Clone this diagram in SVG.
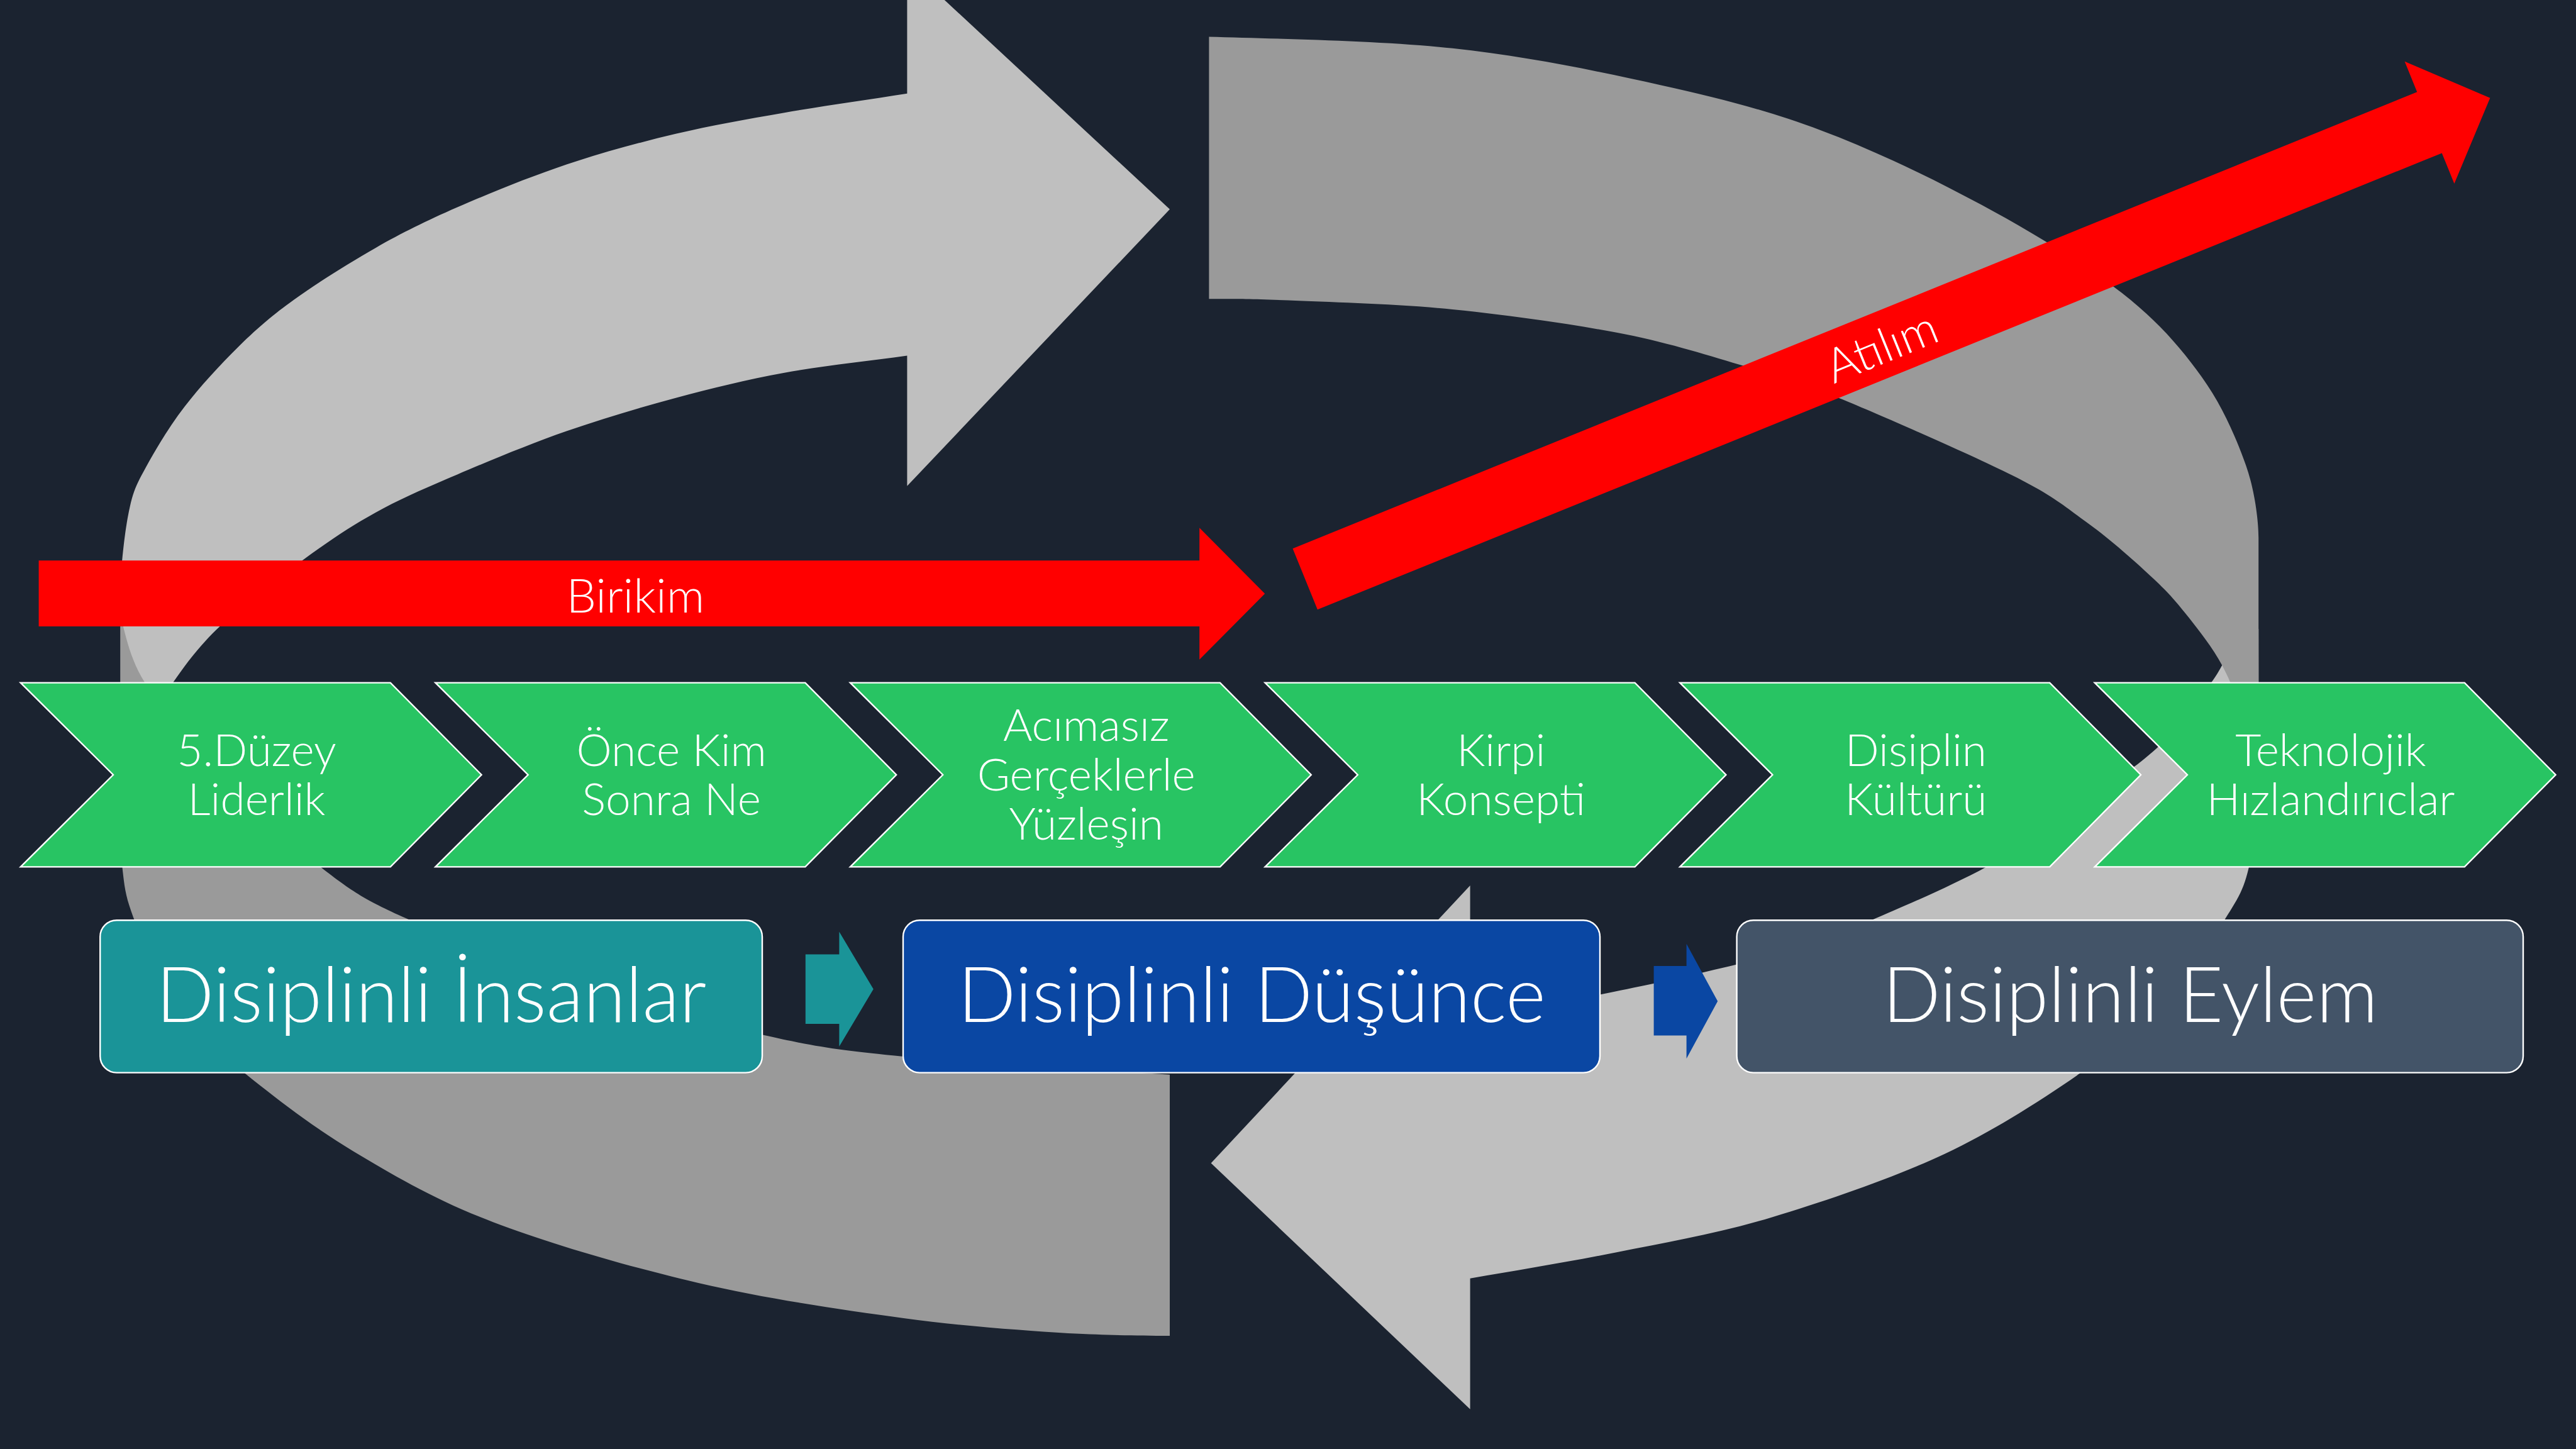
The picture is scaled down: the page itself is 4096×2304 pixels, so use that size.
<svg xmlns="http://www.w3.org/2000/svg" width="4096" height="2304" viewBox="0 0 4096 2304">
<style>
.t{font-family:"Lato Light",Lato,"Liberation Sans",sans-serif;font-weight:300;fill:#ffffff;text-anchor:middle}
.ct{font-size:89px}
.bt{font-size:152px}
.rt{font-size:94px}
.chev{fill:#28C463;stroke:#ffffff;stroke-width:3;stroke-linejoin:miter}
.box{stroke:#ffffff;stroke-width:3}
.lg{fill:#BFBFBF}
.dg{fill:#9A9A9A}
.red{fill:#FF0000}
</style>
<defs>
<polygon id="chevShape" points="0,1357 735,1357 916,1540 735,1723 0,1723 184,1540"/>
</defs>
<rect x="0" y="0" width="4096" height="2304" fill="#1B2330"/>
<g transform="scale(0.8)">
<g id="cycle">
<path id="arrow-top-left" class="lg" d="M 1803,186 L 1803,-69 L 2325,416 L 1803,966 L 1803,707 C 1721.7,718.3 1635.7,727 1559,741 C 1482.3,755 1415.2,771.7 1343,791 C 1270.8,810.3 1198.3,831.7 1126,857 C 1053.7,882.3 972.3,916 909,943 C 845.7,970 796.7,991 746,1019 C 695.3,1047 656.5,1073.3 605,1111 C 553.5,1148.7 480.3,1204.3 437,1245 C 393.7,1285.7 367.8,1322.5 345,1355 C 322.2,1387.5 305,1420 300,1440 L 240,1450 L 240,1150 C 243,1103 249.5,1045.2 258,1008 C 266.5,970.8 272.8,960.3 291,927 C 309.2,893.7 336.3,847.8 367,808 C 397.7,768.2 438.8,723.3 475,688 C 511.2,652.7 538.8,628.5 584,596 C 629.2,563.5 691.8,523.7 746,493 C 800.2,462.3 845.7,439.7 909,412 C 972.3,384.3 1053.7,351.3 1126,327 C 1198.3,302.7 1270.8,283.2 1343,266 C 1415.2,248.8 1482.3,237.3 1559,224 C 1635.7,210.7 1721.7,198.7 1803,186 Z"/>
<path id="arrow-bottom-right" class="lg" d="M 2922,1760 L 2407,2312 L 2922,2801 L 2922,2541 C 3019,2524 3113,2509 3213,2489 C 3313,2469 3414,2452 3523,2419 C 3632,2386 3764,2341 3866,2293 C 3968,2245 4064,2182 4136,2132 C 4208,2082 4252,2046 4300,1995 C 4347,1944 4393,1874 4421,1829 C 4449,1784 4459,1770 4470,1723 C 4481,1676 4484,1629 4487,1550 C 4490,1471 4489,1330 4489,1250 L 4440,1280 C 4424,1304 4420,1322 4395,1357 C 4369,1391 4335,1443 4287,1487 C 4239,1531 4161,1581 4105,1620 C 4048,1659 4012,1688 3948,1723 C 3884,1758 3785,1801 3719,1829 C 3653,1857 3607,1872 3550,1890 C 3493,1908 3438,1920 3376,1935 C 3314,1950 3256,1961 3180,1977 C 3104,1993 3010,2012 2922,2030 Z"/>
<path id="arc-top-right" class="dg" d="M 2403,73 C 2533.2,77 2737.5,80 2887,96 C 3036.5,112 3178,141.8 3300,169 C 3422,196.2 3512.7,219.3 3619,259 C 3725.3,298.7 3838.3,353.2 3938,407 C 4037.7,460.8 4144,525 4217,582 C 4290,639 4334.8,691.8 4376,749 C 4417.2,806.2 4445.2,871.8 4464,925 C 4482.8,978.2 4489,1040 4489,1068 L 4489,1600 L 4465,1600 C 4461.7,1540 4458,1466 4450,1420 C 4442,1374 4433.7,1355 4417,1323 C 4400,1291 4373,1256 4350,1227 C 4327,1198 4313,1181 4280,1150 C 4247,1119 4197,1074 4150,1040 C 4103,1006 4082,986 4000,945 C 3918,904 3747,829 3657,792 C 3567,755 3532,747 3458,725 C 3384,703 3308,679 3213,661 C 3118,643 2996,626 2887,615 C 2778,604 2641,600.5 2560,597 C 2479,593.5 2440,594 2403,594 Z"/>
<path id="arc-bottom-left" class="dg" d="M 239,1224 L 239,1650 C 240,1687 240,1698 243,1723 C 246,1748 247.5,1770.5 257,1800 C 266.5,1829.5 279.5,1861.7 300,1900 C 320.5,1938.3 348.3,1990.7 380,2030 C 411.7,2069.3 436.3,2093 490,2136 C 543.7,2179 620.3,2239.2 702,2288 C 783.7,2336.8 865.7,2385.3 980,2429 C 1094.3,2472.7 1252,2518.2 1388,2550 C 1524,2581.8 1673.5,2603.3 1796,2620 C 1918.5,2636.7 2034.8,2644.2 2123,2650 C 2211,2654 2257.7,2654.5 2325,2655 L 2325,2136 C 2148.7,2125.2 1930.8,2113.2 1796,2100 C 1661.2,2086.8 1618.7,2080 1516,2057 C 1413.3,2034 1296.7,2000 1180,1962 C 1063.3,1924 906.5,1868.8 816,1829 C 725.5,1789.2 701.3,1772.8 637,1723 C 572.7,1673.2 488.2,1591 430,1530 C 371.8,1469 319.8,1408 288,1357 C 256.2,1306 250,1260 239,1224 Z"/>
</g>
<g id="birikim">
<polygon class="red" points="77,1114 2384,1114 2384,1049 2514,1180 2384,1311 2384,1245 77,1245"/>
<text class="t rt" x="1263" y="1217">Birikim</text>
</g>
<g id="atilim" transform="translate(2594,1151) rotate(-22.1)">
<polygon class="red" points="0,-65.5 2412,-65.5 2412,-131 2542,0 2412,131 2412,65.5 0,65.5"/>
<text class="t rt" x="1235" y="36">Atılım</text>
</g>
<g id="chevron-1"><use href="#chevShape" class="chev" x="41"/>
<text class="t ct" x="510" y="1522">5.Düzey</text><text class="t ct" x="510" y="1620">Liderlik</text></g>
<g id="chevron-2"><use href="#chevShape" class="chev" x="865.5"/>
<text class="t ct" x="1334.5" y="1522">Önce Kim</text><text class="t ct" x="1334.5" y="1620">Sonra Ne</text></g>
<g id="chevron-3"><use href="#chevShape" class="chev" x="1690"/>
<text class="t ct" x="2159" y="1473">Acımasız</text><text class="t ct" x="2159" y="1571">Gerçeklerle</text><text class="t ct" x="2159" y="1669">Yüzleşin</text></g>
<g id="chevron-4"><use href="#chevShape" class="chev" x="2514.5"/>
<text class="t ct" x="2983.5" y="1522">Kirpi</text><text class="t ct" x="2983.5" y="1620">Konsepti</text></g>
<g id="chevron-5"><use href="#chevShape" class="chev" x="3339"/>
<text class="t ct" x="3808" y="1522">Disiplin</text><text class="t ct" x="3808" y="1620">Kültürü</text></g>
<g id="chevron-6"><use href="#chevShape" class="chev" x="4163.5"/>
<text class="t ct" x="4632.5" y="1522">Teknolojik</text><text class="t ct" x="4632.5" y="1620">Hızlandırıclar</text></g>
<g id="box-insanlar"><rect class="box" x="199" y="1829" width="1316" height="303" rx="33" fill="#1A9498"/>
<text class="t bt" x="857" y="2031">Disiplinli İnsanlar</text></g>
<g id="box-dusunce"><rect class="box" x="1795" y="1829" width="1385" height="303" rx="33" fill="#0A47A3"/>
<text class="t bt" x="2488" y="2031">Disiplinli Düşünce</text></g>
<g id="box-eylem"><rect class="box" x="3452" y="1829" width="1563" height="303" rx="33" fill="#435468"/>
<text class="t bt" x="4234" y="2031">Disiplinli Eylem</text></g>
<g id="connectors">
<polygon fill="#1A9498" points="1601,1897 1668,1897 1668,1852 1736,1966 1668,2080 1668,2035 1601,2035"/>
<polygon fill="#0A47A3" points="3287,1920 3352,1920 3352,1876 3414,1990 3352,2104 3352,2058 3287,2058"/>
</g>
</g>
</svg>
